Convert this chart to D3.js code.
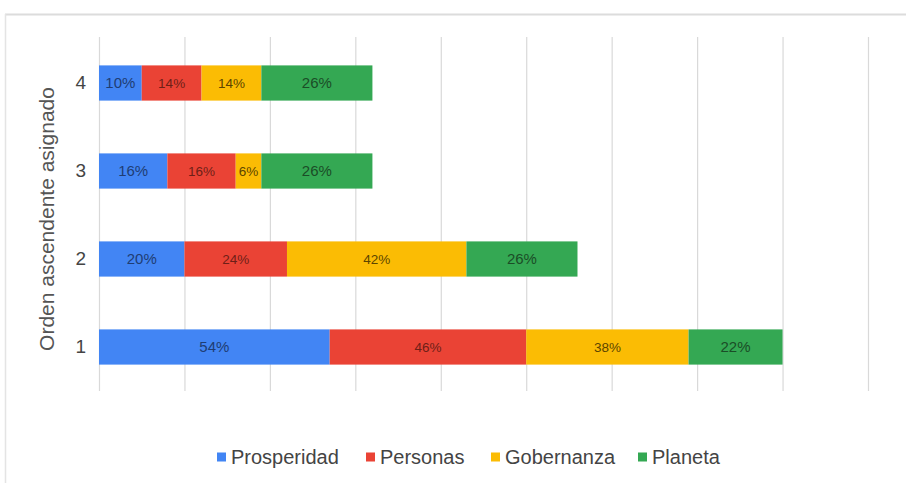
<!DOCTYPE html>
<html>
<head>
<meta charset="utf-8">
<script src="https://cdn.jsdelivr.net/npm/d3@7"></script>
<style>
  html, body { margin: 0; padding: 0; background: #fff; }
  svg { display: block; font-family: "Liberation Sans", Arial, sans-serif; }
</style>
</head>
<body>
<svg id="chart" width="906" height="483"></svg>
<script>
// ---- data ----
const categories = ["4", "3", "2", "1"];
const seriesNames = ["Prosperidad", "Personas", "Gobernanza", "Planeta"];
const prosperidad = [10, 16, 20, 54];
const personas    = [14, 16, 24, 46];
const gobernanza  = [14, 6, 42, 38];
const planeta     = [26, 26, 26, 22];
const gridTicks = [0, 20, 40, 60, 80, 100, 120, 140, 160, 180];
const axisTitle = "Orden ascendente asignado";
const colors = ["#4285F4", "#EA4335", "#FBBC04", "#34A853"];
const labelColors = ["#1f3d73", "#6e1f17", "#5c4500", "#1b4d27"];

const seriesValues = [prosperidad, personas, gobernanza, planeta];
const rows = categories.map((c, i) => {
  const r = { cat: c };
  seriesNames.forEach((s, j) => r[s] = seriesValues[j][i]);
  return r;
});

const svg = d3.select("#chart");

// frame
svg.append("line").attr("x1", 5).attr("x2", 906).attr("y1", 14.5).attr("y2", 14.5)
  .attr("stroke", "#dcdcdc").attr("stroke-width", 2);
svg.append("line").attr("x1", 5.5).attr("x2", 5.5).attr("y1", 14).attr("y2", 483)
  .attr("stroke", "#e4e4e4").attr("stroke-width", 1.5);

const x = d3.scaleLinear().domain([0, 180]).range([99, 868]);
const y = d3.scaleBand().domain(categories).range([39, 391]).paddingInner(0.6).paddingOuter(0.3);

// gridlines via axis
const grid = svg.append("g").attr("transform", "translate(0,391)")
  .call(d3.axisBottom(x).tickValues(gridTicks).tickSize(-(391 - 37)).tickFormat(""));
grid.select(".domain").remove();
grid.selectAll(".tick line").attr("stroke", "#d9d9d9").attr("stroke-width", 1.2);

// stacked bars
const stack = d3.stack().keys(seriesNames)(rows);
const layers = svg.append("g").selectAll("g").data(stack).join("g")
  .attr("fill", (d, i) => colors[i]);
layers.selectAll("rect").data(d => d).join("rect")
  .attr("x", d => x(d[0]))
  .attr("y", d => y(d.data.cat))
  .attr("width", d => x(d[1]) - x(d[0]))
  .attr("height", y.bandwidth());

// data labels
const lab = svg.append("g").selectAll("g").data(stack).join("g");
lab.each(function(layer, i) {
  d3.select(this).selectAll("text").data(layer).join("text")
    .attr("x", d => (x(d[0]) + x(d[1])) / 2)
    .attr("y", d => y(d.data.cat) + y.bandwidth() / 2)
    .attr("dy", "0.36em")
    .attr("text-anchor", "middle")
    .attr("fill", labelColors[i])
    .attr("font-size", (i === 1 || i === 2) ? 13.5 : 15)
    .text(d => (d[1] - d[0]) + "%");
});

// y axis labels
const yAxis = svg.append("g").attr("transform", "translate(99,0)")
  .call(d3.axisLeft(y).tickSize(0).tickPadding(13));
yAxis.select(".domain").remove();
yAxis.selectAll("text").attr("font-size", 19).attr("fill", "#444")
  .attr("font-family", "'Liberation Sans', Arial, sans-serif");

// axis title
svg.append("text")
  .attr("transform", "translate(54,219) rotate(-90)")
  .attr("text-anchor", "middle")
  .attr("font-size", 21)
  .attr("fill", "#555")
  .text(axisTitle);

// legend
const legendX = [217, 366, 491, 638];
const leg = svg.append("g").selectAll("g").data(seriesNames).join("g")
  .attr("transform", (d, i) => `translate(${legendX[i]},457)`);
leg.append("rect").attr("x", 0).attr("y", -4.5).attr("width", 9).attr("height", 9)
  .attr("fill", (d, i) => colors[i]);
leg.append("text").attr("x", 14).attr("dy", "0.35em")
  .attr("font-size", 20).attr("fill", "#444")
  .text(d => d);
</script>
</body>
</html>
